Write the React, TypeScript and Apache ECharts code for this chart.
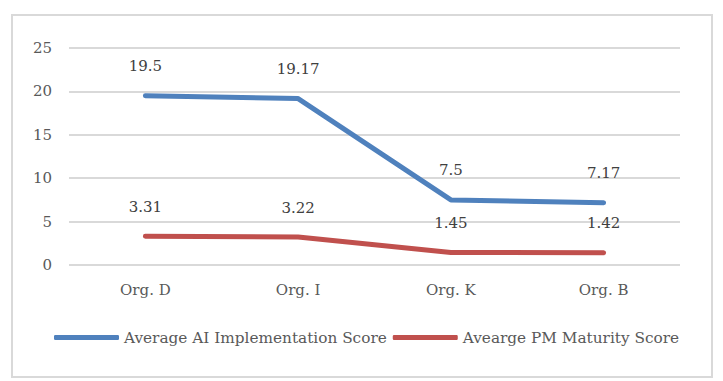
import React, { useEffect, useRef } from "react";
import * as echarts from "echarts";

const categories = ["Org. D", "Org. I", "Org. K", "Org. B"];
const aiScores = [19.5, 19.17, 7.5, 7.17];
const pmScores = [3.31, 3.22, 1.45, 1.42];
const seriesNames = ["Average AI Implementation Score", "Avearge PM Maturity Score"];

const FONT = "DejaVu Serif";

export default function App() {
  const ref = useRef<HTMLDivElement>(null);
  useEffect(() => {
    if (!ref.current) return;
    const chart = echarts.init(ref.current, undefined, { renderer: "svg" });
    const label = {
      show: true,
      position: "top" as const,
      distance: 22,
      color: "#404040",
      fontFamily: FONT,
      fontSize: 15,
    };
    chart.setOption({
      animation: false,
      backgroundColor: "#ffffff",
      graphic: [
        {
          type: "rect",
          shape: { x: 12, y: 15, width: 700, height: 362 },
          style: { fill: "none", stroke: "#d9d9d9", lineWidth: 2 },
          silent: true,
        },
      ],
      grid: { left: 69, right: 43, top: 48, bottom: 116 },
      xAxis: {
        type: "category",
        data: categories,
        boundaryGap: true,
        axisLine: { show: false },
        axisTick: { show: false },
        axisLabel: { color: "#595959", fontFamily: FONT, fontSize: 15, margin: 17 },
      },
      yAxis: {
        type: "value",
        min: 0,
        max: 25,
        interval: 5,
        axisLine: { show: false },
        axisTick: { show: false },
        axisLabel: { color: "#595959", fontFamily: FONT, fontSize: 15, margin: 17 },
        splitLine: { lineStyle: { color: "#d9d9d9", width: 2 } },
      },
      legend: {
        bottom: 31,
        left: 49,
        itemWidth: 65,
        itemHeight: 5,
        itemGap: 6,
        icon: "roundRect",
        textStyle: { color: "#595959", fontFamily: FONT, fontSize: 15.3 },
        data: seriesNames,
      },
      series: [
        {
          name: seriesNames[0],
          type: "line",
          data: aiScores,
          symbol: "circle",
          symbolSize: 0,
          showSymbol: true,
          color: "#4f81bd",
          lineStyle: { color: "#4f81bd", width: 5, cap: "round", join: "round" },
          label,
        },
        {
          name: seriesNames[1],
          type: "line",
          data: pmScores,
          symbol: "circle",
          symbolSize: 0,
          showSymbol: true,
          color: "#c0504d",
          lineStyle: { color: "#c0504d", width: 5, cap: "round", join: "round" },
          label,
        },
      ],
    });
    return () => chart.dispose();
  }, []);
  return (
    <div
      ref={ref}
      style={{ position: "fixed", left: 0, top: 0, width: 723, height: 381 }}
    />
  );
}
